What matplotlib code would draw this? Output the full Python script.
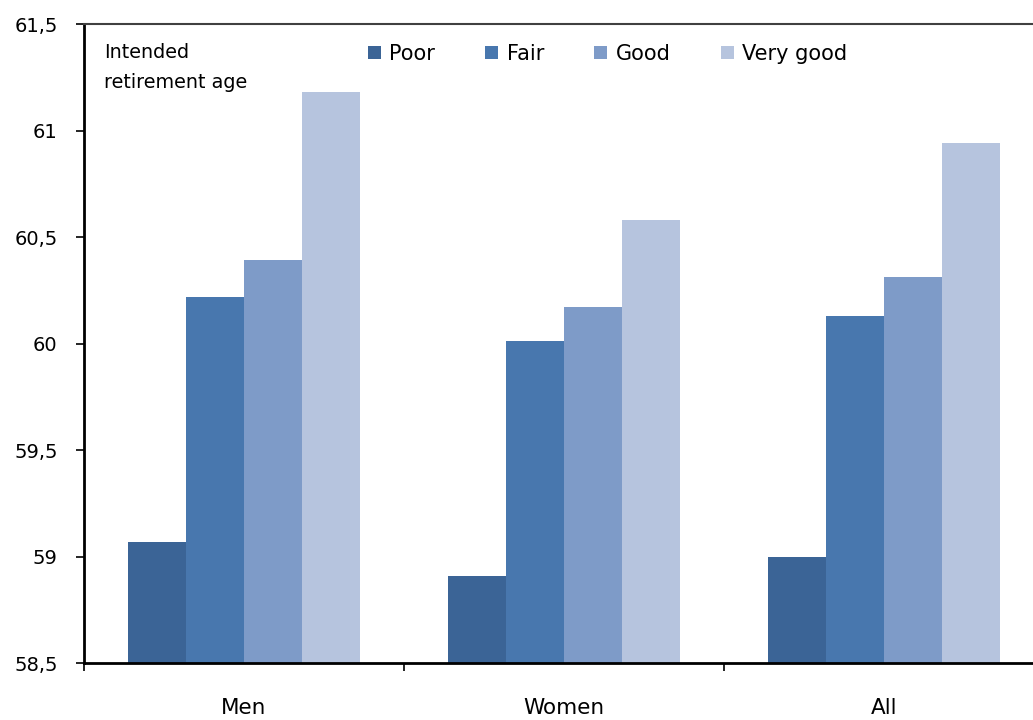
import matplotlib
matplotlib.use("Agg")
import matplotlib.pyplot as plt
import numpy as np

categories = ["Men", "Women", "All"]
series_names = ["Poor", "Fair", "Good", "Very good"]
poor = [59.07, 58.91, 59.00]
fair = [60.22, 60.01, 60.13]
good = [60.39, 60.17, 60.31]
very_good = [61.18, 60.58, 60.94]
yticks = [58.5, 59, 59.5, 60, 60.5, 61, 61.5]
ytick_labels = ["58,5", "59", "59,5", "60", "60,5", "61", "61,5"]
colors = ["#3B6496", "#4877AE", "#7E9BC8", "#B6C4DE"]

plt.rcParams['font.family'] = ['DejaVu Sans']

fig = plt.figure(figsize=(10.33, 7.2), dpi=100)
ax = fig.add_axes([84/1033, 57/720, 960/1033, 639/720])

base = 58.5
w = 0.18125
centers = np.arange(len(categories)) + 0.5
for i, (vals, name, c) in enumerate(zip([poor, fair, good, very_good], series_names, colors)):
    vals = np.array(vals)
    ax.bar(centers + (i - 1.5) * w, vals - base, bottom=base, width=w,
           color=c, label=name, linewidth=0)

ax.set_xlim(0, 3)
ax.set_ylim(58.5, 61.5)
ax.set_yticks(yticks)
ax.set_yticklabels(ytick_labels, fontsize=14)
ax.set_xticks([0, 1, 2, 3])
ax.set_xticklabels([])
ax.set_xticks(centers, minor=True)
ax.set_xticklabels(categories, minor=True, fontsize=15.5)
ax.tick_params(axis='x', which='major', direction='out', length=6, width=1.2)
ax.tick_params(axis='x', which='minor', length=0, pad=25)
ax.tick_params(axis='y', direction='out', length=6, width=1.2, pad=13)

for s in ['left', 'bottom']:
    ax.spines[s].set_linewidth(2)
ax.spines['top'].set_linewidth(1.5)
ax.spines['top'].set_color('#404040')
ax.spines['right'].set_visible(False)

fig.text(104/1033, 1 - 43/720, "Intended\nretirement age",
         fontsize=13.8, va='top', ha='left', linespacing=1.75)

leg = fig.legend(loc='center left', bbox_to_anchor=(368/1033, 1 - 54/720), ncol=4,
                 frameon=False, fontsize=15, handlelength=0.63, handleheight=0.63,
                 handletextpad=0.4, columnspacing=2.4, borderaxespad=0, borderpad=0)

fig.savefig("out.png", dpi=100)
